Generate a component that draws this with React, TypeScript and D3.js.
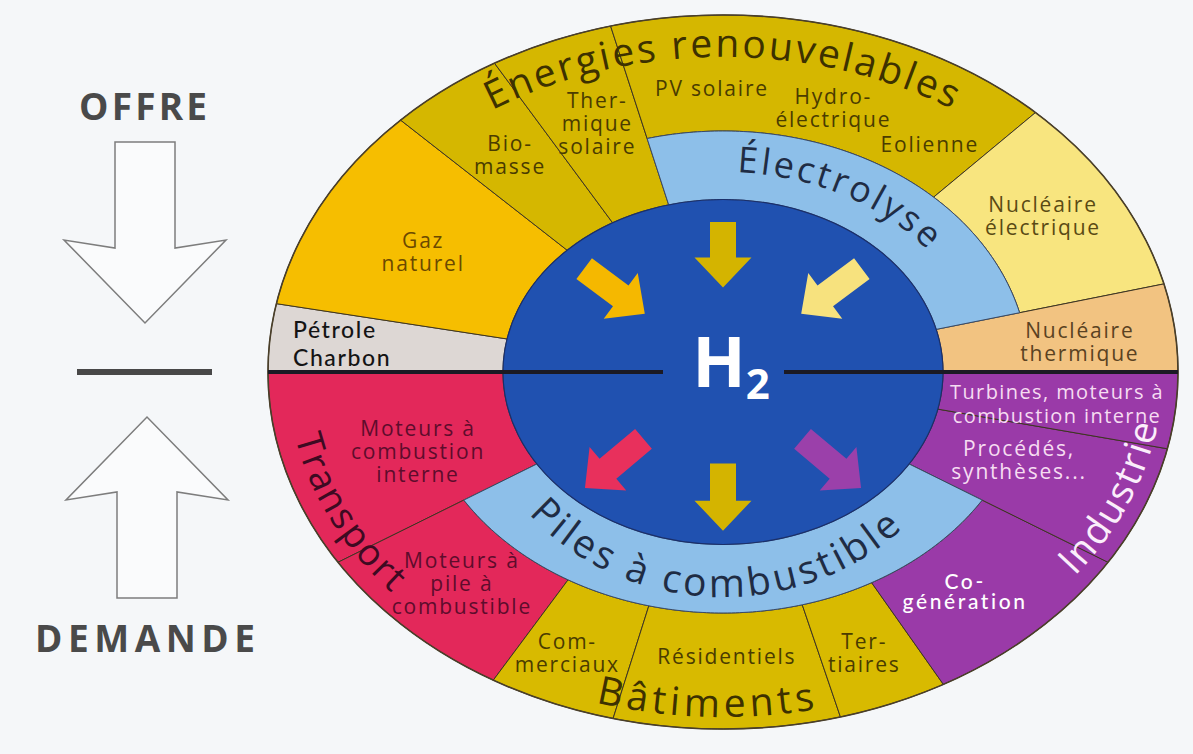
import { useEffect, useRef } from "react";
import * as d3 from "d3";

// OFFRE (top half), left to right; spans are degrees of the half ellipse
const supplySectors = [
  "Pétrole Charbon",
  "Gaz naturel",
  "Biomasse",
  "Thermique solaire",
  "Renouvelables électriques",
  "Nucléaire électrique",
  "Nucléaire thermique",
];
const supplySpans = [8.7, 29.3, 15.5, 18.5, 68.3, 28.4, 11.3];
const supplyViaElectrolyse = [false, false, false, false, true, true, false];

// DEMANDE (bottom half), left to right
const demandSectors = [
  "Moteurs à combustion interne",
  "Moteurs à pile à combustible",
  "Commerciaux",
  "Résidentiels",
  "Tertiaires",
  "Co-génération",
  "Procédés, synthèses",
  "Turbines, moteurs",
];
const demandGroups = ["Transport", "Transport", "Bâtiments", "Bâtiments", "Bâtiments", "Industrie", "Industrie", "Industrie"];
const demandSpans = [26.3, 27.0, 19.1, 36.4, 16.4, 28.5, 16.5, 9.8];
const demandViaPile = [false, true, true, true, true, true, false, false];

const supplyLabels = [
  ["Pétrole", "Charbon"],
  ["Gaz", "naturel"],
  ["Bio-", "masse"],
  ["Ther-", "mique", "solaire"],
  ["PV solaire"],
  ["Hydro-", "électrique"],
  ["Eolienne"],
  ["Nucléaire", "électrique"],
  ["Nucléaire", "thermique"],
];
const demandLabels = [
  ["Moteurs à", "combustion", "interne"],
  ["Moteurs à", "pile à", "combustible"],
  ["Com-", "merciaux"],
  ["Résidentiels"],
  ["Ter-", "tiaires"],
  ["Co-", "génération"],
  ["Procédés,", "synthèses..."],
  ["Turbines, moteurs à", "combustion interne"],
];
const titles = ["Énergies renouvelables", "Électrolyse", "Piles à combustible", "Transport", "Bâtiments", "Industrie"];
const supplyArrows = ["Gaz naturel", "Renouvelables électriques", "Nucléaire électrique"];
const demandArrows = ["Transport", "Bâtiments", "Industrie"];
const sideLabels = ["OFFRE", "DEMANDE"];

// ---- styling / layout ----
const W = 1193;
const H = 754;
const cx = 723;
const cy = 372;
const outer = { rx: 455, ry: 357 };
const ring = { rx: 306, ry: 241 };
const core = { rx: 220, ry: 172.5 };

const OLIVE = "#d5b700";
const sectorColor: Record<string, string> = {
  "Pétrole Charbon": "#ddd7d4",
  "Gaz naturel": "#f6be00",
  Biomasse: OLIVE,
  "Thermique solaire": OLIVE,
  "Renouvelables électriques": OLIVE,
  "Nucléaire électrique": "#f8e57f",
  "Nucléaire thermique": "#f2c381",
  Transport: "#e3285a",
  Bâtiments: "#d8ba00",
  Industrie: "#9a3aa8",
};
const arrowColor: Record<string, string> = {
  "Gaz naturel": "#f5b800",
  "Renouvelables électriques": "#d4b400",
  "Nucléaire électrique": "#f7e27e",
  Transport: "#e8305c",
  Bâtiments: "#d4b400",
  Industrie: "#9b40aa",
};

// label anchor: [k, t] in elliptic coords of the outer ellipse (first baseline)
const supplyLabelPos = [
  [0.95, 185.8], [0.745, 207.8], [0.776, 232.9], [0.789, 249.5], [0.773, 268.2],
  [0.789, 287.9], [0.766, 306.4], [0.834, 327.5], [0.79, 353.1],
];
const demandLabelPos = [
  [0.694, 165], [0.794, 136.3], [0.848, 113.8], [0.818, 89.4], [0.836, 68.2],
  [0.808, 48.8], [0.692, 19.9], [0.738, 5.9],
];
const supplyLabelColor = ["#141414", "#6b4900", "#4a3c00", "#4a3c00", "#4a3c00", "#4a3c00", "#4a3c00", "#5a4a14", "#5a4222"];
const demandLabelColor = ["#5e0c2c", "#5e0c2c", "#4a3c00", "#4a3c00", "#4a3c00", "#ffffff", "#f6dcf2", "#f6dcf2"];

const titleLayout = [
  { e: { rx: 415, ry: 315 }, from: 180, to: 360, anchor: "middle", size: 39, ls: 2.6, color: "#3d3100" },
  { e: { rx: 258, ry: 200 }, from: 274, to: 372, anchor: "start", size: 36, ls: 3, color: "#1f2c44" },
  { e: { rx: 250, ry: 225 }, from: 184, to: 0, anchor: "middle", size: 39, ls: 3.6, color: "#1f2c44" },
  { e: { rx: 436, ry: 340 }, from: 197, to: 117, anchor: "middle", size: 37, ls: 2, color: "#3e0a22" },
  { e: { rx: 443, ry: 345 }, from: 182, to: 2, anchor: "middle", size: 39, ls: 4.5, color: "#3d3100" },
  { e: { rx: 440, ry: 340 }, from: 60, to: -20, anchor: "middle", size: 38, ls: 2, color: "#fbeefb" },
];
const sideLayout = [
  { x: 143, y: 120, len: 128 },
  { x: 145, y: 652, len: 220 },
];

const FONT = "'Open Sans', 'DejaVu Sans', sans-serif";

const rad = (d: number) => (d * Math.PI) / 180;
const deg = (r: number) => (r * 180) / Math.PI;
type Ell = { rx: number; ry: number };
const ellR = (e: Ell, phi: number) => {
  const p = rad(phi);
  return 1 / Math.sqrt((Math.cos(p) / e.rx) ** 2 + (Math.sin(p) / e.ry) ** 2);
};

const closedRadial = d3
  .lineRadial<[number, number]>()
  .angle((d) => rad(d[0] + 90))
  .radius((d) => d[1])
  .curve(d3.curveLinearClosed);
const openRadial = d3
  .lineRadial<[number, number]>()
  .angle((d) => rad(d[0] + 90))
  .radius((d) => d[1]);

const sampleAngles = (a0: number, a1: number, step = 1) => {
  const n = Math.max(2, Math.ceil(Math.abs(a1 - a0) / step));
  return d3.range(n + 1).map((i) => a0 + ((a1 - a0) * i) / n);
};

const band = (a0: number, a1: number, inner: Ell, out: Ell) => {
  const phis = sampleAngles(a0, a1);
  const pts: [number, number][] = [
    ...phis.map((p) => [p, ellR(out, p)] as [number, number]),
    ...phis
      .slice()
      .reverse()
      .map((p) => [p, ellR(inner, p)] as [number, number]),
  ];
  return closedRadial(pts) as string;
};

const arcPath = (e: Ell, a0: number, a1: number) =>
  openRadial(sampleAngles(a0, a1, 0.5).map((p) => [p, ellR(e, p)] as [number, number])) as string;

const ellPoint = (e: Ell, k: number, t: number): [number, number] => [
  k * e.rx * Math.cos(rad(t)),
  k * e.ry * Math.sin(rad(t)),
];

const Chart = () => {
  const ref = useRef<SVGSVGElement | null>(null);

  useEffect(() => {
    const svg = d3.select(ref.current);
    svg.selectAll("*").remove();

    svg.append("rect").attr("width", W).attr("height", H).attr("fill", "#f5f7f9");

    const g = svg.append("g").attr("transform", `translate(${cx},${cy})`);
    const defs = svg.append("defs");

    // d3 pie angles (0 = up, clockwise) -> phi (0 = right)
    const supplyPie = d3
      .pie<number>()
      .sort(null)
      .startAngle(-Math.PI / 2)
      .endAngle(Math.PI / 2)(supplySpans);
    const demandPie = d3
      .pie<number>()
      .sort(null)
      .startAngle(1.5 * Math.PI)
      .endAngle(0.5 * Math.PI)(demandSpans);

    const toPhi = (a: number) => deg(a) - 90;

    const sectors = [
      ...supplyPie.map((p, i) => ({
        a0: toPhi(p.startAngle),
        a1: toPhi(p.endAngle),
        fill: sectorColor[supplySectors[i]],
        ring: supplyViaElectrolyse[i],
      })),
      ...demandPie.map((p, i) => ({
        a0: toPhi(p.startAngle),
        a1: toPhi(p.endAngle),
        fill: sectorColor[demandGroups[i]],
        ring: demandViaPile[i],
      })),
    ];

    g.selectAll("path.sector")
      .data(sectors)
      .join("path")
      .attr("class", "sector")
      .attr("d", (d) => band(d.a0, d.a1, d.ring ? ring : core, outer))
      .attr("fill", (d) => d.fill)
      .attr("stroke", "#3e3522")
      .attr("stroke-width", 1)
      .attr("stroke-linejoin", "round");

    // light blue rings (Électrolyse / Piles à combustible)
    const ringSpan = (pie: d3.PieArcDatum<number>[], flags: boolean[]) => {
      const idx = flags.map((f, i) => (f ? i : -1)).filter((i) => i >= 0);
      return [toPhi(pie[idx[0]].startAngle), toPhi(pie[idx[idx.length - 1]].endAngle)];
    };
    [ringSpan(supplyPie, supplyViaElectrolyse), ringSpan(demandPie, demandViaPile)].forEach(([a0, a1]) => {
      g.append("path")
        .attr("d", band(a0, a1, core, ring))
        .attr("fill", "#8dbfe9")
        .attr("stroke", "#3a4a66")
        .attr("stroke-width", 1);
    });

    // outer outline
    g.append("ellipse")
      .attr("rx", outer.rx)
      .attr("ry", outer.ry)
      .attr("fill", "none")
      .attr("stroke", "#4a3f2a")
      .attr("stroke-width", 1.6);

    // H2 core
    g.append("ellipse")
      .attr("rx", core.rx)
      .attr("ry", core.ry)
      .attr("fill", "#2051b0")
      .attr("stroke", "#1a2f6a")
      .attr("stroke-width", 1.2);

    // divider line between offer and demand
    [
      [-outer.rx, -60],
      [61, outer.rx],
    ].forEach(([x0, x1]) => {
      g.append("line")
        .attr("x1", x0)
        .attr("x2", x1)
        .attr("y1", 0)
        .attr("y2", 0)
        .attr("stroke", "#1b1a24")
        .attr("stroke-width", 4);
    });

    // flow arrows
    const arrowShape = (L: number) => {
      const sw = 13;
      const hw = 28.5;
      const hl = 30;
      const pts: [number, number][] = [
        [0, -sw], [L - hl, -sw], [L - hl, -hw], [L, 0], [L - hl, hw], [L - hl, sw], [0, sw],
      ];
      return d3.line().curve(d3.curveLinearClosed)(pts) as string;
    };
    const supplyArrowT = [223.5, 270, 316.5];
    const demandArrowT = [133, 90, 47];
    const arrows = [
      ...supplyArrows.map((k, i) => ({ key: k, t: supplyArrowT[i], k0: 0.87, k1: 0.49 })),
      ...demandArrows.map((k, i) => ({ key: k, t: demandArrowT[i], k0: 0.53, k1: 0.92 })),
    ];
    arrows.forEach((a) => {
      const [x0, y0] = ellPoint(core, a.k0, a.t);
      const [x1, y1] = ellPoint(core, a.k1, a.t);
      const L = Math.hypot(x1 - x0, y1 - y0);
      const ang = deg(Math.atan2(y1 - y0, x1 - x0));
      g.append("path")
        .attr("d", arrowShape(L))
        .attr("transform", `translate(${x0},${y0}) rotate(${ang})`)
        .attr("fill", arrowColor[a.key]);
    });

    // H2
    const h2 = g
      .append("text")
      .attr("x", 8)
      .attr("y", 15)
      .attr("text-anchor", "middle")
      .attr("fill", "#ffffff")
      .attr("font-family", FONT)
      .attr("font-weight", 700);
    h2.append("tspan").attr("font-size", 70).text("H");
    h2.append("tspan").attr("font-size", 42).attr("dy", 12).text("2");

    // sector labels
    const drawLabel = (
      lines: string[],
      pos: number[],
      color: string,
      opts: { anchor?: string; family?: string; size?: number; ls?: number; lh?: number } = {}
    ) => {
      const [x, y] = ellPoint(outer, pos[0], pos[1]);
      const t = g
        .append("text")
        .attr("x", x)
        .attr("y", y)
        .attr("text-anchor", opts.anchor ?? "middle")
        .attr("font-family", opts.family ?? FONT)
        .attr("font-size", opts.size ?? 21)
        .attr("font-weight", 500)
        .attr("letter-spacing", opts.ls ?? 1.8)
        .attr("fill", color);
      lines.forEach((line, i) => {
        t.append("tspan")
          .attr("x", x)
          .attr("dy", i === 0 ? 0 : opts.lh ?? 23)
          .text(line);
      });
    };

    supplyLabels.forEach((lines, i) => {
      const opts =
        i === 0
          ? { anchor: "start", family: "Lato, 'Open Sans', sans-serif", size: 23, ls: 1.6, lh: 28 }
          : {};
      drawLabel(lines, supplyLabelPos[i], supplyLabelColor[i], opts);
    });
    demandLabels.forEach((lines, i) => {
      const opts =
        i === 5
          ? { family: "Lato, 'Open Sans', sans-serif", size: 21, ls: 2.6, lh: 20 }
          : i === 7
          ? { size: 20, ls: 1.4, lh: 24 }
          : {};
      drawLabel(lines, demandLabelPos[i], demandLabelColor[i], opts);
    });

    // curved titles
    titles.forEach((title, i) => {
      const L = titleLayout[i];
      const id = `title-path-${i}`;
      defs.append("path").attr("id", id).attr("d", arcPath(L.e, L.from, L.to));
      g.append("text")
        .attr("font-family", FONT)
        .attr("font-size", L.size)
        .attr("font-weight", 500)
        .attr("letter-spacing", L.ls)
        .attr("fill", L.color)
        .append("textPath")
        .attr("href", `#${id}`)
        .attr("startOffset", L.anchor === "middle" ? "50%" : "0%")
        .attr("text-anchor", L.anchor)
        .text(title);
    });

    // OFFRE / DEMANDE side panel
    const side = svg.append("g");
    const blockArrow = (x: number, yStart: number, yEnd: number) => {
      const dir = Math.sign(yEnd - yStart);
      const sw = 30;
      const hw = 81;
      const hl = 75;
      const yj = yEnd - dir * hl;
      const yc = yj - dir * 8;
      const pts: [number, number][] = [
        [x - sw, yStart], [x + sw, yStart], [x + sw, yj], [x + hw, yc], [x, yEnd],
        [x - hw, yc], [x - sw, yj],
      ];
      side
        .append("path")
        .attr("d", d3.line().curve(d3.curveLinearClosed)(pts) as string)
        .attr("fill", "#fafbfc")
        .attr("stroke", "#7d7d7d")
        .attr("stroke-width", 1.5);
    };
    blockArrow(145, 142, 323);
    blockArrow(147, 598, 417);
    side
      .append("line")
      .attr("x1", 77)
      .attr("x2", 212)
      .attr("y1", 372)
      .attr("y2", 372)
      .attr("stroke", "#484848")
      .attr("stroke-width", 6);
    side
      .selectAll("text")
      .data(sideLabels)
      .join("text")
      .attr("x", (_, i) => sideLayout[i].x)
      .attr("y", (_, i) => sideLayout[i].y)
      .attr("text-anchor", "middle")
      .attr("textLength", (_, i) => sideLayout[i].len)
      .attr("lengthAdjust", "spacing")
      .attr("font-family", FONT)
      .attr("font-weight", 700)
      .attr("font-size", 37)
      .attr("fill", "#4a4a4a")
      .text((d) => d);
  }, []);

  return <svg ref={ref} width={W} height={H} style={{ position: "absolute", left: 0, top: 0 }}></svg>;
};

export default function App() {
  return <Chart />;
}
